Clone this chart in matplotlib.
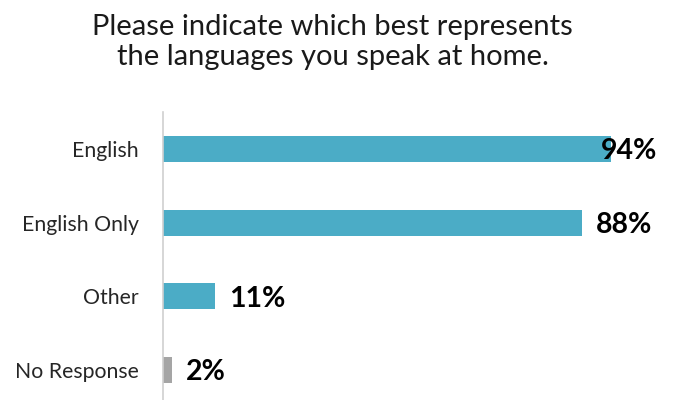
import matplotlib.pyplot as plt

plt.rcParams["font.family"] = ["Lato", "DejaVu Sans"]

# survey responses, top to bottom
categories = ["English", "English Only", "Other", "No Response"]
percents = [94, 88, 11, 2]
bar_colors = ["#4BACC6", "#4BACC6", "#4BACC6", "#A5A5A5"]

TITLE = "Please indicate which best represents\nthe languages you speak at home."

fig = plt.figure(figsize=(6.73, 4.0), dpi=100)
ax = fig.add_axes([162.5 / 673, -7 / 400, 476.6 / 673, 295 / 400])

ypos = list(range(len(categories)))
ax.barh(ypos, percents, height=0.35, color=bar_colors)
ax.set_xlim(0, 100)
ax.set_ylim(len(categories) - 0.5, -0.5)

# value labels sit just right of the bar, but never run past the plot edge
label_cap = 92.0
for y, v in zip(ypos, percents):
    x = min(v + 2.95, label_cap)
    ax.text(x, y + 0.03, f"{v}%", ha="left", va="center",
            fontsize=20.5, fontweight="bold", color="black")

ax.set_yticks(ypos)
ax.set_yticklabels(categories, fontsize=15.3, color="#262626")
ax.tick_params(axis="y", length=0, pad=17)
ax.set_xticks([])
for side in ("top", "right", "bottom"):
    ax.spines[side].set_visible(False)
ax.spines["left"].set_color("#D0D0D0")
ax.spines["left"].set_linewidth(1.2)

fig.text(0.494, 0.965, TITLE, ha="center", va="top", fontsize=21,
         color="#1a1a1a", linespacing=1.2)

fig.savefig("out.png", dpi=100)
